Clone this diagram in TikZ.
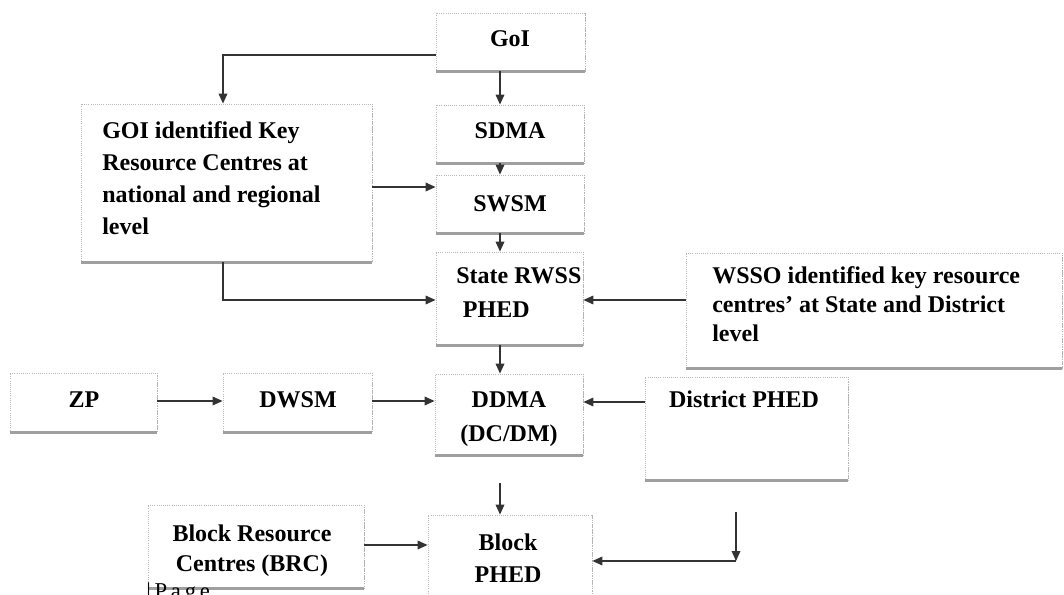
\documentclass[tikz,border=0pt]{standalone}
\usepackage{fontspec}
\setmainfont{Liberation Serif}
\usetikzlibrary{arrows.meta,fit}
\begin{document}
\begin{tikzpicture}[x=0.75pt,y=-0.75pt,
  box/.style={draw=gray!55, densely dotted, line width=0.6pt, inner sep=0pt, fill=white},
  shadowline/.style={draw=gray!75, line width=1.8pt},
  sideline/.style={draw=gray!60, line width=0.9pt, densely dotted},
  arr/.style={draw=black!80, line width=1pt, -{Triangle[length=7.5pt,width=6.5pt]}},
  lbl/.style={font=\fontsize{18}{24}\selectfont\bfseries, inner sep=0pt},
]
\useasboundingbox (0,0) rectangle (1064,595);
\clip (0,0) rectangle (1064,595);

% boxes
\node[box, fit={(436,13) (585,71)}] (goi) {};
\node[box, fit={(436,105) (584,163)}] (sdma) {};
\node[box, fit={(436,175) (584,233)}] (swsm) {};
\node[box, fit={(81,104) (372,262)}] (krc) {};
\node[box, fit={(436,252) (583,345)}] (state) {};
\node[box, fit={(686,253) (1062,368)}] (wsso) {};
\node[box, fit={(10,373) (157,432)}] (zp) {};
\node[box, fit={(223,373) (372,432)}] (dwsm) {};
\node[box, fit={(435,374) (583,455)}] (ddma) {};
\node[box, fit={(645,377) (848,480)}] (dphed) {};
\node[box, fit={(148,505) (364,588)}] (brc) {};
\node[box, fit={(428,515) (592,600)}] (block) {};

\foreach \n in {goi,sdma,swsm,krc,state,wsso,zp,dwsm,ddma,dphed,brc,block}{
  \draw[sideline] (\n.north east) -- (\n.south east);
  \draw[shadowline] (\n.south west) -- (\n.south east);
}

% texts
\node[lbl, anchor=base] (tgoi) at (510,47) {GoI};
\node[lbl, anchor=base] (tsdma) at (510,139) {SDMA};
\node[lbl, anchor=base] (tswsm) at (510,212) {SWSM};
\node[lbl, anchor=north west, align=left, font=\fontsize{18}{24}\selectfont\bfseries] (tkrc) at (102,121)
  {GOI identified Key\\Resource Centres at\\national and regional\\level};
\node[lbl, anchor=north west, align=left, font=\fontsize{18}{26}\selectfont\bfseries] (tstate) at (456,267)
  {State RWSS\\\hspace*{5pt}PHED};
\node[lbl, anchor=north west, align=left, font=\fontsize{18}{22}\selectfont\bfseries] (twsso) at (712,266)
  {WSSO identified key resource\\centres' at State and District\\level};
\node[lbl, anchor=base] (tzp) at (84,407) {ZP};
\node[lbl, anchor=base] (tdwsm) at (298,407) {DWSM};
\node[lbl, anchor=north, align=center, font=\fontsize{18}{26}\selectfont\bfseries] (tddma) at (509,391)
  {DDMA\\(DC/DM)};
\node[lbl, anchor=base] (tdphed) at (744,407) {District PHED};
\node[lbl, anchor=north, align=center, font=\fontsize{18}{22}\selectfont\bfseries] (tbrc) at (252,525)
  {Block Resource\\Centres (BRC)};
\node[lbl, anchor=north, align=center, font=\fontsize{18}{24}\selectfont\bfseries] (tblock) at (508,534)
  {Block\\PHED};
\node[anchor=base west, inner sep=0pt, font=\fontsize{17}{18}\selectfont] (page) at (146,598) {|\,P\,a\,g\,e};

% connectors
\draw[arr] (goi.west |- 0,55) -| (krc.north -| 223,0);
\draw[arr] (goi.south -| 500,0) -- (sdma.north -| 500,0);
\draw[arr] (sdma.south -| 500,0) -- (swsm.north -| 500,0);
\draw[arr] (swsm.south -| 500,0) -- (state.north -| 500,0);
\draw[arr] (krc.east |- 0,187) -- (swsm.west |- 0,187);
\draw[arr] (krc.south -| 223,0) |- (state.west |- 0,300);
\draw[arr] (wsso.west |- 0,300) -- (state.east |- 0,300);
\draw[arr] (state.south -| 500,0) -- (ddma.north -| 500,0);
\draw[arr] (zp.east |- 0,401) -- (dwsm.west |- 0,401);
\draw[arr] (dwsm.east |- 0,401) -- (ddma.west |- 0,401);
\draw[arr] (dphed.west |- 0,402) -- (ddma.east |- 0,402);
\coordinate (dstart) at (500,483);
\draw[arr] (dstart) -- (block.north -| dstart);
\draw[arr] (brc.east |- 0,545) -- (block.west |- 0,545);
\coordinate (rtop) at (736,512);
\coordinate (rcorner) at (736,561);
\draw[arr] (rtop) -- (rcorner);
\draw[arr] (rcorner) -- (block.east |- rcorner);
\end{tikzpicture}
\end{document}
